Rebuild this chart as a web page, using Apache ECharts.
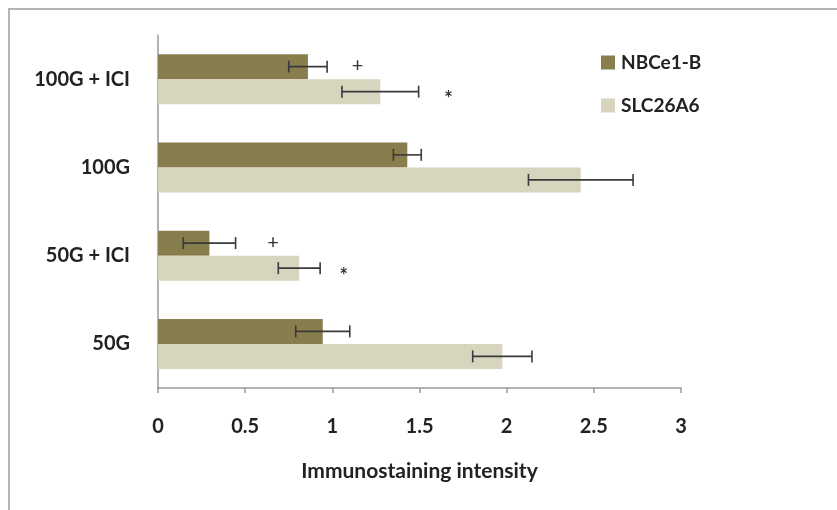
<!DOCTYPE html>
<html>
<head>
<meta charset="utf-8">
<script src="https://cdn.jsdelivr.net/npm/echarts@6/dist/echarts.min.js"></script>
<style>
  html, body { margin: 0; padding: 0; background: #fff; }
  #frame { position: absolute; left: 8px; top: 8px; width: 829px; height: 502px;
           border-left: 2px solid #b4b4b4; border-top: 2px solid #b4b4b4; box-sizing: border-box; }
  #chart { position: absolute; left: 0; top: 0; width: 837px; height: 510px; }
</style>
</head>
<body>
<div id="frame"></div>
<div id="chart"></div>
<script>
// Groups, listed bottom to top along the category axis
const categories = ['50G', '50G + ICI', '100G', '100G + ICI'];

// Mean immunostaining intensity and error (±) per group
const nbce1Values = [0.945, 0.295, 1.43, 0.86];
const nbce1Errors = [0.155, 0.15, 0.08, 0.11];
const slcValues   = [1.975, 0.81, 2.425, 1.275];
const slcErrors   = [0.17, 0.12, 0.30, 0.22];

// Significance marks: [category index, x position, symbol]
const nbce1Marks = [[1, 0.66, '+'], [3, 1.145, '+']];
const slcMarks   = [[1, 1.065, '*'], [3, 1.667, '*']];

const xTicks = [0, 0.5, 1, 1.5, 2, 2.5, 3];

const FONT = 'Lato, "Open Sans", sans-serif';
const BAR_W = 25;
const COLOR_A = '#887d4c';
const COLOR_B = '#d8d5bf';

const chart = echarts.init(document.getElementById('chart'), null, { renderer: 'canvas' });

// Error bar whiskers for one series; side = -1 upper bar, +1 lower bar (pixel offset)
function errorSeries(name, values, errors, side) {
  return {
    type: 'custom',
    name: name + ' err',
    silent: true,
    z: 5,
    data: values.map((v, i) => [i, v - errors[i], v + errors[i]]),
    renderItem: function (params, api) {
      const ci = api.value(0);
      const lo = api.coord([api.value(1), ci]);
      const hi = api.coord([api.value(2), ci]);
      const y = lo[1] + side * BAR_W / 2;
      const cap = 6;
      const st = { stroke: '#3a3a3a', lineWidth: 1.6 };
      return {
        type: 'group',
        children: [
          { type: 'line', shape: { x1: lo[0], y1: y, x2: hi[0], y2: y }, style: st },
          { type: 'line', shape: { x1: lo[0], y1: y - cap, x2: lo[0], y2: y + cap }, style: st },
          { type: 'line', shape: { x1: hi[0], y1: y - cap, x2: hi[0], y2: y + cap }, style: st }
        ]
      };
    }
  };
}

function markSeries(name, marks, side, dy, size, weight) {
  return {
    type: 'custom',
    name: name + ' mark',
    silent: true,
    z: 5,
    data: marks.map(m => [m[1], m[0], m[2]]),
    renderItem: function (params, api) {
      const p = api.coord([api.value(0), api.value(1)]);
      return {
        type: 'text',
        x: p[0],
        y: p[1] + side * BAR_W / 2 + dy,
        style: {
          text: marks[params.dataIndex][2],
          fontFamily: FONT,
          fontSize: size,
          fontWeight: weight,
          fill: '#333',
          align: 'center',
          verticalAlign: 'middle'
        }
      };
    }
  };
}

chart.setOption({
  animation: false,
  backgroundColor: 'transparent',
  grid: { left: 158, right: 156, top: 35, bottom: 122, containLabel: false },
  legend: {
    orient: 'vertical',
    left: 596,
    top: 48,
    itemWidth: 14,
    itemHeight: 14,
    itemGap: 24,
    icon: 'rect',
    data: ['NBCe1-B', 'SLC26A6'],
    textStyle: { fontFamily: FONT, fontSize: 19, fontWeight: 'bold', color: '#222', padding: [0, 0, 0, 1] }
  },
  xAxis: {
    type: 'value',
    min: 0,
    max: 3,
    interval: 0.5,
    name: 'Immunostaining intensity',
    nameLocation: 'middle',
    nameGap: 73,
    nameTextStyle: { fontFamily: FONT, fontSize: 21, fontWeight: 'bold', color: '#222' },
    axisLine: { show: true, lineStyle: { color: '#9a9a9a', width: 1.5 } },
    axisTick: { show: true, length: 5, inside: false, lineStyle: { color: '#9a9a9a', width: 1.5 } },
    axisLabel: {
      margin: 29,
      fontFamily: FONT, fontSize: 20, fontWeight: 'bold', color: '#222',
      formatter: v => xTicks.includes(v) ? String(v) : ''
    },
    splitLine: { show: false }
  },
  yAxis: {
    type: 'category',
    data: categories,
    axisLine: { show: true, lineStyle: { color: '#9a9a9a', width: 1.5 } },
    axisTick: { show: false },
    axisLabel: { margin: 28, fontFamily: FONT, fontSize: 20, fontWeight: 'bold', color: '#222' }
  },
  series: [
    {
      name: 'NBCe1-B', type: 'bar', data: nbce1Values,
      barWidth: BAR_W, barGap: '0%',
      itemStyle: { color: COLOR_A }
    },
    {
      name: 'SLC26A6', type: 'bar', data: slcValues,
      barWidth: BAR_W, barGap: '0%',
      itemStyle: { color: COLOR_B }
    },
    errorSeries('NBCe1-B', nbce1Values, nbce1Errors, -1),
    errorSeries('SLC26A6', slcValues, slcErrors, 1),
    markSeries('NBCe1-B', nbce1Marks, -1, -1, 20, 'normal'),
    markSeries('SLC26A6', slcMarks, 1, 8, 20, 'bold')
  ]
});
</script>
</body>
</html>
